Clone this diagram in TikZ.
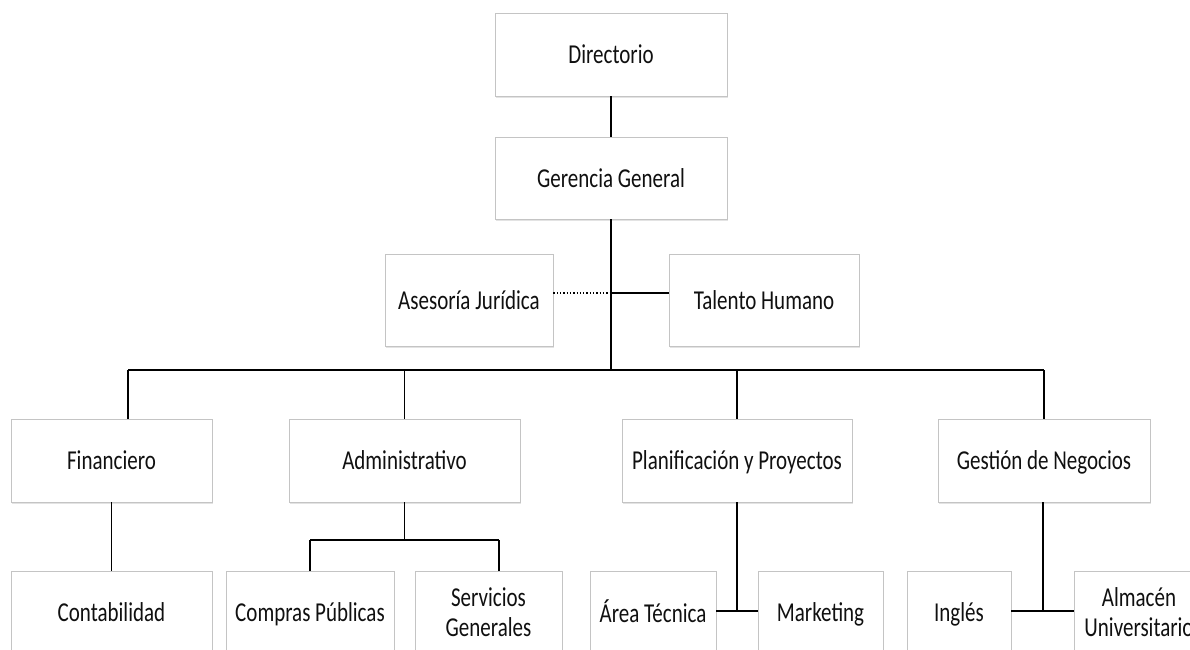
\documentclass[tikz,border=0pt]{standalone}
\usepackage{fontspec}
\usepackage{graphicx}
\setmainfont{Carlito}
\usetikzlibrary{shadows}
\definecolor{boxline}{HTML}{C4C4C4}
\definecolor{inktext}{HTML}{101010}
% labels are set slightly taller than the font's natural shape, and a little lower
\newcommand{\unitlabel}[1]{\raisebox{-3.5pt}[\height][\depth]{\scalebox{1}[1.3]{\begin{tabular}{@{}c@{}}#1\end{tabular}}}}
\tikzset{
  unitbox/.style={draw=boxline, line width=0.9pt, fill=white, inner sep=2pt,
    text=inktext, font=\fontsize{21}{23}\selectfont,
    drop shadow={shadow xshift=1.2pt, shadow yshift=-1.8pt, opacity=0.18, fill=black!60}},
  link/.style={draw=black, line width=1.3pt},
  dotlink/.style={draw=black, line width=1.3pt, dotted}
}
\begin{document}
\begin{tikzpicture}[x=1pt, y=-1pt]
  \clip (0,0) rectangle (1190,649);
  \fill[white] (0,0) rectangle (1190,649);

  % top levels
  \node[unitbox, minimum width=232pt, minimum height=83pt] (dir) at (611,54.5) {\unitlabel{Directorio}};
  \node[unitbox, minimum width=232pt, minimum height=82pt] (ger) at (611,178) {\unitlabel{Gerencia General}};

  % staff units
  \node[unitbox, minimum width=168pt, minimum height=92pt] (ase) at (469,300) {\unitlabel{Asesoría Jurídica}};
  \node[unitbox, minimum width=190pt, minimum height=92pt] (tal) at (764,300) {\unitlabel{Talento Humano}};

  % departments
  \node[unitbox, minimum width=201pt, minimum height=83pt] (fin) at (111.5,460.5) {\unitlabel{Financiero}};
  \node[unitbox, minimum width=231pt, minimum height=83pt] (adm) at (404.5,460.5) {\unitlabel{Administrativo}};
  \node[unitbox, minimum width=230pt, minimum height=83pt] (pla) at (737,460.5) {\unitlabel{Planificación y Proyectos}};
  \node[unitbox, minimum width=212pt, minimum height=83pt] (ges) at (1044,460.5) {\unitlabel{Gestión de Negocios}};

  % sections
  \node[unitbox, minimum width=201pt, minimum height=82pt] (con) at (111.5,612) {\unitlabel{Contabilidad}};
  \node[unitbox, minimum width=168pt, minimum height=82pt] (com) at (310,612) {\unitlabel{Compras Públicas}};
  \node[unitbox, minimum width=147pt, minimum height=82pt] (ser) at (488.5,612) {\unitlabel{Servicios\\Generales}};
  \node[unitbox, minimum width=126pt, minimum height=82pt] (are) at (653,612) {\unitlabel{Área Técnica}};
  \node[unitbox, minimum width=125pt, minimum height=82pt] (mar) at (820.5,612) {\unitlabel{Marketing}};
  \node[unitbox, minimum width=104pt, minimum height=82pt] (ing) at (959,612) {\unitlabel{Inglés}};
  \node[unitbox, minimum width=130pt, minimum height=82pt] (alm) at (1139,612) {\unitlabel{Almacén\\Universitario}};

  % junction points
  \coordinate (jst) at (611,293);
  \coordinate (bus) at (611,370);
  \coordinate (bfin) at (128,370);
  \coordinate (badm) at (404.5,540);
  \coordinate (bser) at (499,540);
  \coordinate (bpla) at (737,611);
  \coordinate (bges) at (1043,611);

  % connectors
  \draw[link] (dir.south) -- (ger.north);
  \draw[link] (ger.south) -- (bus);
  \draw[dotlink] (ase.east |- jst) -- (jst);
  \draw[link] (jst) -- (tal.west |- jst);
  \draw[link] (bfin) -- (bfin -| ges.north);
  \draw[link] (bfin) -- (bfin |- fin.north);
  \draw[link] (adm.north |- bus) -- (adm.north);
  \draw[link] (pla.north |- bus) -- (pla.north);
  \draw[link] (ges.north |- bus) -- (ges.north);
  \draw[link] (fin.south) -- (con.north);
  \draw[link] (adm.south) -- (badm);
  \draw[link] (com.north |- badm) -- (bser);
  \draw[link] (com.north |- badm) -- (com.north);
  \draw[link] (bser) -- (bser |- ser.north);
  \draw[link] (pla.south) -- (bpla);
  \draw[link] (are.east |- bpla) -- (mar.west |- bpla);
  \draw[link] (ges.south -| bges) -- (bges);
  \draw[link] (ing.east |- bges) -- (alm.west |- bges);
\end{tikzpicture}
\end{document}
